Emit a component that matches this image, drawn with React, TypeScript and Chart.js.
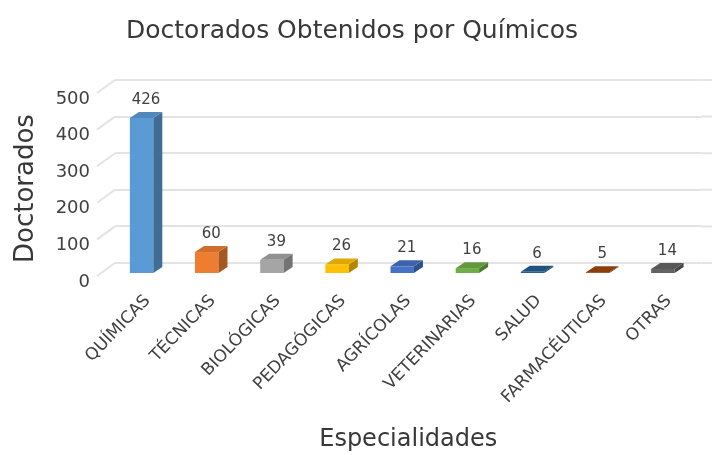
import { useEffect, useRef } from "react";
import { Chart, registerables } from "chart.js";

Chart.register(...registerables);

const chartTitle = "Doctorados Obtenidos por Químicos";
const xAxisTitle = "Especialidades";
const yAxisTitle = "Doctorados";
const categories = [
  "QUÍMICAS",
  "TÉCNICAS",
  "BIOLÓGICAS",
  "PEDAGÓGICAS",
  "AGRÍCOLAS",
  "VETERINARIAS",
  "SALUD",
  "FARMACÉUTICAS",
  "OTRAS",
];
const doctorados = [426, 60, 39, 26, 21, 16, 6, 5, 14];
const barColors = [
  "#5B9BD5",
  "#ED7D31",
  "#A5A5A5",
  "#FFC000",
  "#4472C4",
  "#70AD47",
  "#255E91",
  "#9E480E",
  "#636363",
];
const yTickValues = [0, 100, 200, 300, 400, 500];

const FONT = "'DejaVu Sans', 'Liberation Sans', Arial, sans-serif";
const SHIFT_X = -6;
const SHIFT_Y = 11;
const DEPTH_X = 9;
const DEPTH_Y = -6;
const GRID_COLOR = "#E3E3E3";

function shade(hex: string, f: number): string {
  const n = parseInt(hex.slice(1), 16);
  const ch = [(n >> 16) & 255, (n >> 8) & 255, n & 255].map((c) => {
    const v = f < 1 ? c * f : c + (255 - c) * (f - 1);
    return Math.max(0, Math.min(255, Math.round(v)));
  });
  return `rgb(${ch[0]},${ch[1]},${ch[2]})`;
}

const bars3d = {
  id: "bars3d",
  beforeDatasetsDraw(chart: any) {
    const ctx = chart.ctx;
    const yScale = chart.scales.y;
    const { left, right } = chart.chartArea;
    ctx.save();
    ctx.strokeStyle = GRID_COLOR;
    ctx.lineWidth = 2;
    yTickValues.forEach((v) => {
      const py = yScale.getPixelForValue(v);
      ctx.beginPath();
      ctx.moveTo(left - 18, py + 13);
      ctx.lineTo(left, py);
      ctx.moveTo(right, py);
      ctx.lineTo(chart.width, py);
      ctx.stroke();
    });
    ctx.restore();
    ctx.save();
    ctx.translate(SHIFT_X, SHIFT_Y);
  },
  afterDatasetsDraw(chart: any) {
    const ctx = chart.ctx;
    const meta = chart.getDatasetMeta(0);
    meta.data.forEach((bar: any, i: number) => {
      const { x, y, base, width } = bar.getProps(["x", "y", "base", "width"], true);
      const l = x - width / 2;
      const r = x + width / 2;
      const c = barColors[i];
      ctx.fillStyle = shade(c, 0.7);
      ctx.beginPath();
      ctx.moveTo(r, y);
      ctx.lineTo(r + DEPTH_X, y + DEPTH_Y);
      ctx.lineTo(r + DEPTH_X, base + DEPTH_Y);
      ctx.lineTo(r, base);
      ctx.closePath();
      ctx.fill();
      ctx.fillStyle = shade(c, 0.88);
      ctx.beginPath();
      ctx.moveTo(l, y);
      ctx.lineTo(l + DEPTH_X, y + DEPTH_Y);
      ctx.lineTo(r + DEPTH_X, y + DEPTH_Y);
      ctx.lineTo(r, y);
      ctx.closePath();
      ctx.fill();
      ctx.fillStyle = "#404040";
      ctx.font = `15px ${FONT}`;
      ctx.textAlign = "center";
      ctx.textBaseline = "middle";
      ctx.fillText(String(doctorados[i]), x + DEPTH_X / 2, y - 18);
    });
    ctx.restore();
  },
};

export default function App() {
  const ref = useRef<HTMLCanvasElement | null>(null);
  useEffect(() => {
    if (!ref.current) return;
    Chart.defaults.font.family = FONT;
    const chart = new Chart(ref.current, {
      type: "bar",
      data: {
        labels: categories,
        datasets: [
          {
            label: yAxisTitle,
            data: doctorados,
            backgroundColor: barColors,
            borderWidth: 0,
            categoryPercentage: 1,
            barPercentage: 0.36,
            clip: false as any,
          },
        ],
      },
      options: {
        animation: false,
        responsive: true,
        maintainAspectRatio: false,
        layout: { padding: { top: 0, right: 8, bottom: 0, left: 0 } },
        plugins: {
          legend: { display: false },
          tooltip: { enabled: false },
          title: {
            display: true,
            text: chartTitle,
            color: "#383838",
            font: { size: 25, weight: "normal", family: FONT },
            padding: { top: 16, bottom: 34 },
          },
        },
        scales: {
          x: {
            grid: { display: false, drawTicks: false },
            border: { display: false },
            ticks: {
              color: "#404040",
              font: { size: 17, family: FONT },
              minRotation: 46,
              maxRotation: 46,
              autoSkip: false,
              padding: 28,
            },
            title: {
              display: true,
              text: xAxisTitle,
              color: "#383838",
              font: { size: 24, family: FONT },
              padding: { top: 0, bottom: 1 },
            },
            afterFit(scale: any) {
              scale.height = 192;
            },
          },
          y: {
            min: 0,
            max: 500,
            grid: { color: GRID_COLOR, lineWidth: 2, drawTicks: false },
            border: { display: false },
            ticks: {
              stepSize: 100,
              color: "#404040",
              font: { size: 18, family: FONT },
              padding: 25,
              labelOffset: 19,
            },
            title: {
              display: true,
              text: yAxisTitle,
              align: "start",
              color: "#383838",
              font: { size: 26, family: FONT },
              padding: { top: 11, bottom: 0 },
            },
            afterFit(scale: any) {
              scale.width = 115;
            },
          },
        },
      },
      plugins: [bars3d],
    });
    return () => chart.destroy();
  }, []);
  return (
    <div style={{ position: "fixed", left: 0, top: 0, width: 712, height: 455, background: "#fff" }}>
      <canvas ref={ref} />
    </div>
  );
}
